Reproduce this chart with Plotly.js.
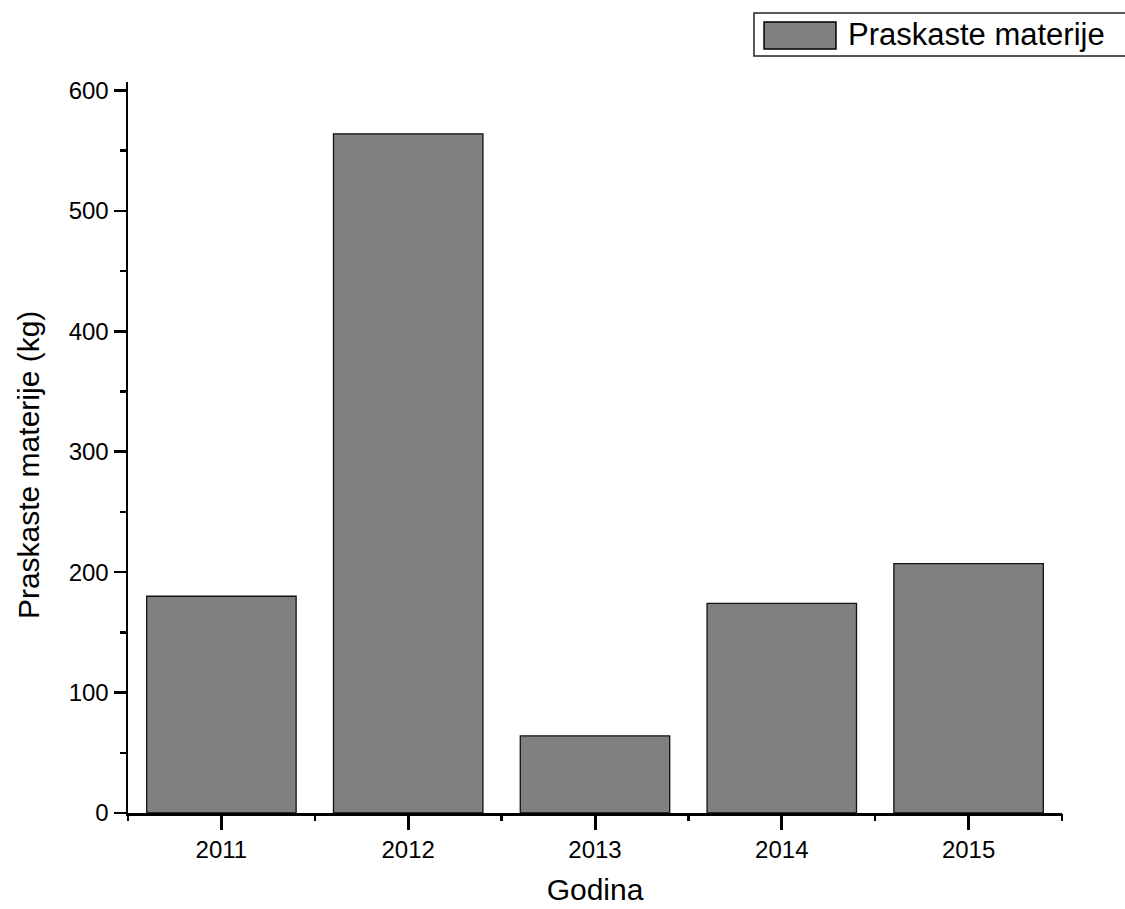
<!DOCTYPE html>
<html>
<head>
<meta charset="utf-8">
<script src="https://cdn.plot.ly/plotly-3.0.1.min.js"></script>
<style>html,body{margin:0;padding:0;background:#fff;}#chart{width:1125px;height:909px;}</style>
</head>
<body>
<div id="chart"></div>
<script>
const years = [2011, 2012, 2013, 2014, 2015];
const values = [180, 564, 64, 174, 207];
const seriesName = "Praskaste materije";
const xTitle = "Godina";
const yTitle = "Praskaste materije (kg)";

const FONT = "Liberation Sans, Arial, sans-serif";

const trace = {
  type: "bar",
  x: years,
  y: values,
  name: seriesName,
  width: 0.8,
  marker: { color: "#808080", line: { color: "#111111", width: 1.3 } },
  showlegend: false,
  hoverinfo: "x+y"
};

const xRange = [2010.5, 2015.5];

const layout = {
  width: 1125,
  height: 909,
  margin: { l: 128, r: 63, t: 82, b: 96, pad: 0 },
  paper_bgcolor: "#ffffff",
  plot_bgcolor: "#ffffff",
  font: { family: FONT, color: "#000000" },
  showlegend: false,
  xaxis: {
    type: "linear",
    range: xRange,
    tick0: 2011,
    dtick: 1,
    tickformat: "d",
    ticks: "outside",
    ticklen: 14,
    tickwidth: 3,
    tickcolor: "#000",
    showline: true,
    linecolor: "#000",
    linewidth: 2.5,
    showgrid: false,
    zeroline: false,
    tickfont: { family: FONT, size: 24, color: "#000" },
    title: { text: xTitle, font: { family: FONT, size: 30, color: "#000" }, standoff: 17 },
    fixedrange: true
  },
  xaxis2: {
    type: "linear",
    overlaying: "x",
    anchor: "y",
    side: "bottom",
    range: xRange,
    tick0: 2010.5,
    dtick: 1,
    ticks: "outside",
    ticklen: 7,
    tickwidth: 2.5,
    tickcolor: "#000",
    showticklabels: false,
    showline: false,
    showgrid: false,
    zeroline: false,
    fixedrange: true
  },
  yaxis: {
    range: [0, 607],
    dtick: 100,
    tick0: 0,
    ticks: "outside",
    ticklen: 12,
    tickwidth: 2.5,
    tickcolor: "#000",
    showline: true,
    linecolor: "#000",
    linewidth: 2.5,
    showgrid: false,
    zeroline: false,
    tickfont: { family: FONT, size: 24, color: "#000" },
    minor: { dtick: 50, tick0: 0, ticks: "outside", ticklen: 6, tickwidth: 2.5, tickcolor: "#000", showgrid: false },
    fixedrange: true
  },
  shapes: [
    { type: "rect", xref: "paper", yref: "paper", x0: 0.6702, x1: 1.08, y0: 1.0356, y1: 1.0944,
      line: { color: "#222", width: 1.5 }, fillcolor: "rgba(0,0,0,0)" },
    { type: "rect", xref: "paper", yref: "paper", x0: 0.681, x1: 0.758, y0: 1.0451, y1: 1.0821,
      line: { color: "#000", width: 1.5 }, fillcolor: "#808080" }
  ],
  annotations: [
    { text: seriesName, xref: "paper", yref: "paper", x: 0.769, y: 1.0643, xanchor: "left", yanchor: "middle",
      showarrow: false, font: { family: FONT, size: 31, color: "#000" } },
    { text: yTitle, xref: "paper", yref: "paper", x: -0.107, y: 0.476, xanchor: "center", yanchor: "middle",
      textangle: -90, showarrow: false, font: { family: FONT, size: 30, color: "#000" } }
  ]
};

// invisible helper trace so that xaxis2 is drawn
const helper = { type: "scatter", x: [], y: [], xaxis: "x2", yaxis: "y", showlegend: false, hoverinfo: "skip" };

Plotly.newPlot("chart", [trace, helper], layout, { displayModeBar: false, staticPlot: true });
</script>
</body>
</html>
